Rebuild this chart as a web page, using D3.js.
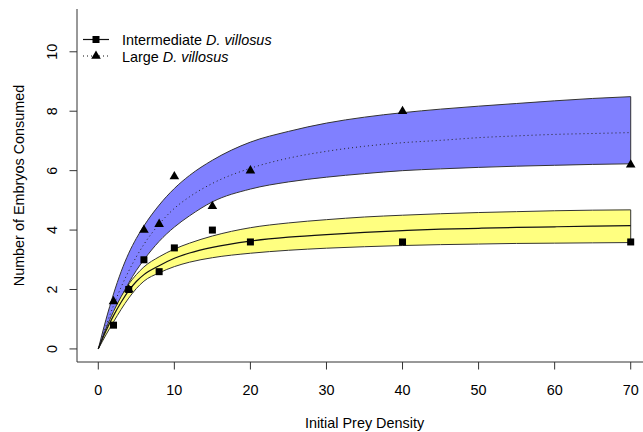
<!DOCTYPE html>
<html>
<head>
<meta charset="utf-8">
<script src="https://cdn.jsdelivr.net/npm/d3@7"></script>
<style>
  body { margin: 0; background: #fff; }
  svg { display: block; font-family: "Liberation Sans", Arial, sans-serif; }
</style>
</head>
<body>
<svg id="chart" width="643" height="432"></svg>
<script>
// fitted curves
const curveX = [0, 1, 2, 3, 4, 5, 6, 8, 10, 12, 15, 20, 25, 30, 35, 40, 45, 50, 55, 60, 65, 70];
const intMean  = [0, 0.6, 1.12, 1.57, 1.96, 2.27, 2.5, 2.8, 3.05, 3.23, 3.42, 3.63, 3.76, 3.85, 3.92, 3.98, 4.03, 4.06, 4.09, 4.11, 4.13, 4.15];
const intUpper = [0, 0.68, 1.26, 1.76, 2.18, 2.5, 2.76, 3.1, 3.36, 3.56, 3.8, 4.08, 4.24, 4.35, 4.44, 4.5, 4.55, 4.59, 4.62, 4.65, 4.67, 4.68];
const intLower = [0, 0.47, 0.91, 1.33, 1.71, 2.03, 2.28, 2.56, 2.77, 2.92, 3.07, 3.22, 3.32, 3.39, 3.44, 3.48, 3.51, 3.53, 3.55, 3.56, 3.57, 3.58];
const largeMean  = [0, 0.77, 1.46, 2.08, 2.62, 3.1, 3.52, 4.2, 4.73, 5.12, 5.57, 6.08, 6.42, 6.65, 6.82, 6.94, 7.02, 7.11, 7.17, 7.22, 7.25, 7.28];
const largeUpper = [0, 0.98, 1.85, 2.6, 3.22, 3.72, 4.14, 4.84, 5.4, 5.84, 6.35, 6.96, 7.32, 7.6, 7.8, 7.95, 8.07, 8.17, 8.26, 8.35, 8.43, 8.49];
const largeLower = [0, 0.64, 1.2, 1.74, 2.22, 2.64, 3.0, 3.62, 4.1, 4.48, 4.95, 5.38, 5.62, 5.78, 5.9, 6.0, 6.06, 6.11, 6.15, 6.18, 6.21, 6.23];

// observed means
const preyDensity = [2, 4, 6, 8, 10, 15, 20, 40, 70];
const intObs   = [0.8, 2.0, 3.0, 2.6, 3.4, 4.0, 3.6, 3.6, 3.6];
const largeObs = [1.6, 2.0, 4.0, 4.2, 5.8, 4.8, 6.0, 8.0, 6.2];

const xTicks = [0, 10, 20, 30, 40, 50, 60, 70];
const yTicks = [0, 2, 4, 6, 8, 10];

const svg = d3.select("#chart");
const fontSize = 14.4;

const x = d3.scaleLinear().domain([-2.8, 72.8]).range([77, 652]);
const y = d3.scaleLinear().domain([-0.44, 11.44]).range([362, 9]);

function bandData(lo, hi) {
  return curveX.map((v, i) => ({ x: v, lo: lo[i], hi: hi[i] }));
}

const area = d3.area()
  .x((d) => x(d.x))
  .y0((d) => y(d.lo))
  .y1((d) => y(d.hi))
  .curve(d3.curveMonotoneX);

const line = d3.line()
  .x((d) => x(d[0]))
  .y((d) => y(d[1]))
  .curve(d3.curveMonotoneX);

// confidence bands
svg.append("path")
  .attr("d", area(bandData(largeLower, largeUpper)))
  .attr("fill", "#8080ff")
  .attr("stroke", "#333")
  .attr("stroke-width", 1);

svg.append("path")
  .attr("d", area(bandData(intLower, intUpper)))
  .attr("fill", "#ffff80")
  .attr("stroke", "#333")
  .attr("stroke-width", 1);

// fitted means
svg.append("path")
  .attr("d", line(curveX.map((v, i) => [v, largeMean[i]])))
  .attr("fill", "none")
  .attr("stroke", "#222")
  .attr("stroke-width", 1)
  .attr("stroke-dasharray", "1,3");

svg.append("path")
  .attr("d", line(curveX.map((v, i) => [v, intMean[i]])))
  .attr("fill", "none")
  .attr("stroke", "#111")
  .attr("stroke-width", 1.2);

// points
const tri = d3.symbol().type(d3.symbolTriangle).size(40);
svg.selectAll("path.tri")
  .data(preyDensity.map((v, i) => [v, largeObs[i]]))
  .join("path")
  .attr("class", "tri")
  .attr("d", tri)
  .attr("transform", (d) => `translate(${x(d[0])},${y(d[1])})`)
  .attr("fill", "#000");

svg.selectAll("rect.sq")
  .data(preyDensity.map((v, i) => [v, intObs[i]]))
  .join("rect")
  .attr("class", "sq")
  .attr("x", (d) => x(d[0]) - 3.5)
  .attr("y", (d) => y(d[1]) - 3.5)
  .attr("width", 7)
  .attr("height", 7)
  .attr("fill", "#000");

// frame (bty = "l")
svg.append("path")
  .attr("d", `M${x.range()[0]},${y.range()[1]}V${y.range()[0]}H${x.range()[1]}`)
  .attr("fill", "none")
  .attr("stroke", "#333")
  .attr("stroke-width", 1);

// x axis
const gx = svg.append("g");
gx.selectAll("line")
  .data(xTicks)
  .join("line")
  .attr("x1", (d) => x(d)).attr("x2", (d) => x(d))
  .attr("y1", 362).attr("y2", 369.5)
  .attr("stroke", "#333");
gx.selectAll("text")
  .data(xTicks)
  .join("text")
  .attr("x", (d) => x(d))
  .attr("y", 394.5)
  .attr("text-anchor", "middle")
  .attr("font-size", fontSize)
  .text((d) => d);

// y axis
const gy = svg.append("g");
gy.selectAll("line")
  .data(yTicks)
  .join("line")
  .attr("x1", 69.5).attr("x2", 77)
  .attr("y1", (d) => y(d)).attr("y2", (d) => y(d))
  .attr("stroke", "#333");
gy.selectAll("text")
  .data(yTicks)
  .join("text")
  .attr("transform", (d) => `translate(56.5,${y(d)}) rotate(-90)`)
  .attr("text-anchor", "middle")
  .attr("font-size", fontSize)
  .text((d) => d);

// titles
svg.append("text")
  .attr("x", (x.range()[0] + x.range()[1]) / 2)
  .attr("y", 427.5)
  .attr("text-anchor", "middle")
  .attr("font-size", fontSize)
  .text("Initial Prey Density");

svg.append("text")
  .attr("transform", `translate(23.5,${(y.range()[0] + y.range()[1]) / 2}) rotate(-90)`)
  .attr("text-anchor", "middle")
  .attr("font-size", fontSize)
  .text("Number of Embryos Consumed");

// legend
const legendItems = [
  { label: "Intermediate ", dash: null, shape: "square" },
  { label: "Large ", dash: "1,3", shape: "triangle" },
];
const lg = svg.append("g");
legendItems.forEach((item, i) => {
  const cy = 39.5 + i * 16.5;
  lg.append("line")
    .attr("x1", 83).attr("x2", 109)
    .attr("y1", cy).attr("y2", cy)
    .attr("stroke", "#111")
    .attr("stroke-width", 1.2)
    .attr("stroke-dasharray", item.dash);
  if (item.shape === "square") {
    lg.append("rect")
      .attr("x", 92.5).attr("y", cy - 3.5)
      .attr("width", 7).attr("height", 7)
      .attr("fill", "#000");
  } else {
    lg.append("path")
      .attr("d", tri)
      .attr("transform", `translate(96,${cy})`)
      .attr("fill", "#000");
  }
  const t = lg.append("text")
    .attr("x", 122)
    .attr("y", cy + 5.5)
    .attr("font-size", fontSize);
  t.append("tspan").text(item.label);
  t.append("tspan").attr("font-style", "italic").text("D. villosus");
});
</script>
</body>
</html>
